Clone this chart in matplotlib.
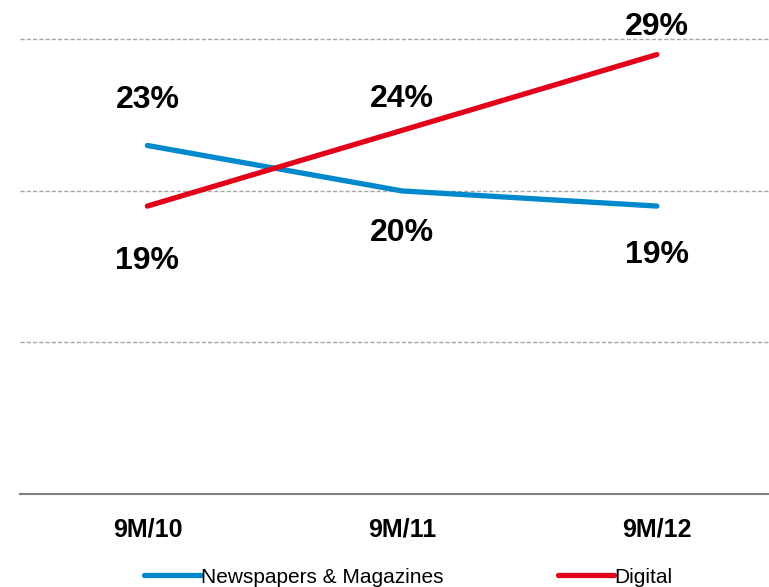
import matplotlib.pyplot as plt

plt.rcParams['font.family'] = ['Liberation Sans', 'DejaVu Sans']

periods = ['9M/10', '9M/11', '9M/12']
newspapers = [23, 20, 19]
digital = [19, 24, 29]

blue = '#0088cc'
red = '#e2001a'

fig = plt.figure(figsize=(7.69, 5.87), dpi=100)
ax = fig.add_axes([20 / 769, 93 / 587, 749 / 769, 494 / 587])

x = list(range(len(periods)))
ax.plot(x, newspapers, color=blue, lw=3.8, solid_capstyle='round',
        label='Newspapers & Magazines', zorder=3)
ax.plot(x, digital, color=red, lw=3.8, solid_capstyle='round',
        label='Digital', zorder=4)

# value labels, offsets in points (positive = above the point)
news_off = [32.5, -30.5, -35.5]
dig_off = [-39.5, 22.5, 19.5]
for i in x:
    ax.annotate('%d%%' % newspapers[i], (i, newspapers[i]), xytext=(0, news_off[i]),
                textcoords='offset points', ha='center', va='center',
                fontsize=23, fontweight='bold')
    ax.annotate('%d%%' % digital[i], (i, digital[i]), xytext=(0, dig_off[i]),
                textcoords='offset points', ha='center', va='center',
                fontsize=23, fontweight='bold')

ax.set_xlim(-0.5, 2.44)
ax.set_ylim(0, 32.6)
ax.set_yticks([10, 20, 30])
ax.yaxis.grid(True, color='#a6a6a6', lw=1, linestyle=(0, (3, 1.5)))
ax.set_axisbelow(True)
ax.tick_params(axis='y', left=False, labelleft=False)
ax.set_xticks(x)
ax.set_xticklabels(periods, fontsize=18, fontweight='bold')
ax.tick_params(axis='x', length=0, pad=17)

for side in ['top', 'right', 'left']:
    ax.spines[side].set_visible(False)
ax.spines['bottom'].set_color('#808080')
ax.spines['bottom'].set_linewidth(1.5)

fig.legend(loc='center', bbox_to_anchor=(0.531, 0.017), ncol=2, frameon=False,
           fontsize=15, handlelength=2.7, handletextpad=0, columnspacing=5.5,
           borderpad=0)

fig.savefig('out.png', dpi=100)
